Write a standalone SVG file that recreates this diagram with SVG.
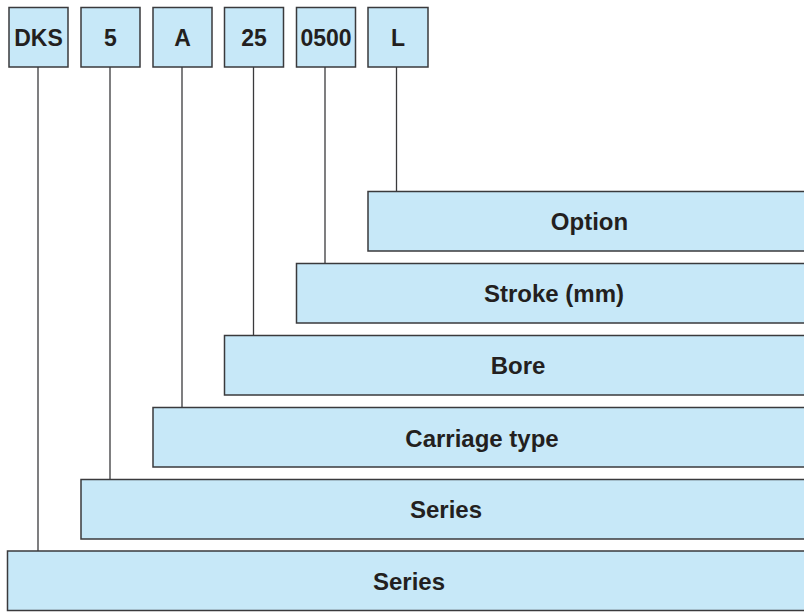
<svg xmlns="http://www.w3.org/2000/svg" width="804" height="612" viewBox="0 0 804 612">
<style>
.box{fill:#c7e8f8;stroke:#3a3a3c;stroke-width:1.5}
.lbl{font-family:"Liberation Sans",Arial,sans-serif;font-weight:bold;font-size:23px;fill:#231f20;text-anchor:middle}
.big{font-size:24px}
.conn{stroke:#3a3a3c;stroke-width:1.3;fill:none}
</style>
<rect width="804" height="612" fill="#ffffff"/>
<g id="connectors">
<line class="conn" x1="38" y1="67" x2="38" y2="551"/>
<line class="conn" x1="110" y1="67" x2="110" y2="479.5"/>
<line class="conn" x1="182" y1="67" x2="182" y2="407.5"/>
<line class="conn" x1="253.5" y1="67" x2="253.5" y2="335.5"/>
<line class="conn" x1="325" y1="67" x2="325" y2="263.5"/>
<line class="conn" x1="396.5" y1="67" x2="396.5" y2="191.5"/>
</g>
<g id="code-dks"><rect class="box" x="9" y="7.5" width="59" height="59.5"/><text class="lbl" x="38.5" y="45.5">DKS</text></g>
<g id="code-5"><rect class="box" x="81" y="7.5" width="59" height="59.5"/><text class="lbl" x="110.5" y="45.5">5</text></g>
<g id="code-a"><rect class="box" x="153" y="7.5" width="59" height="59.5"/><text class="lbl" x="182.5" y="45.5">A</text></g>
<g id="code-25"><rect class="box" x="224.5" y="7.5" width="59" height="59.5"/><text class="lbl" x="254" y="45.5">25</text></g>
<g id="code-0500"><rect class="box" x="296.5" y="7.5" width="59" height="59.5"/><text class="lbl" x="326" y="45.5">0500</text></g>
<g id="code-l"><rect class="box" x="368" y="7.5" width="60" height="59.5"/><text class="lbl" x="398" y="45.5">L</text></g>
<g id="desc-option"><rect class="box" x="368" y="191.5" width="443" height="59.5"/><text class="lbl big" x="589.5" y="230">Option</text></g>
<g id="desc-stroke"><rect class="box" x="296.5" y="263.5" width="515" height="59.5"/><text class="lbl big" x="554" y="302">Stroke (mm)</text></g>
<g id="desc-bore"><rect class="box" x="224.5" y="335.5" width="587" height="59.5"/><text class="lbl big" x="518" y="374">Bore</text></g>
<g id="desc-carriage"><rect class="box" x="153" y="407.5" width="658" height="59.5"/><text class="lbl big" x="482" y="446.5">Carriage type</text></g>
<g id="desc-series-1"><rect class="box" x="81" y="479.5" width="730" height="59.5"/><text class="lbl big" x="446" y="518">Series</text></g>
<g id="desc-series-2"><rect class="box" x="7.5" y="551" width="803" height="59.5"/><text class="lbl big" x="409" y="589.5">Series</text></g>
</svg>
